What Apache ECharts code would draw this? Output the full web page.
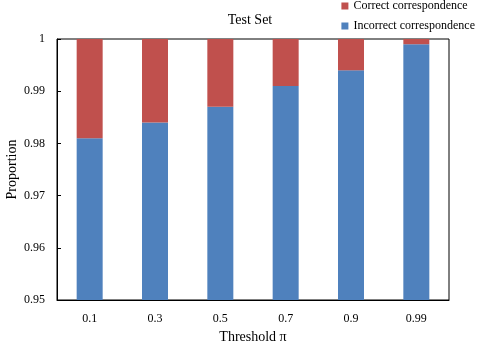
<!DOCTYPE html>
<html>
<head>
<meta charset="utf-8">
<script src="https://cdn.jsdelivr.net/npm/echarts@6/dist/echarts.min.js"></script>
<style>
  html, body { margin: 0; padding: 0; background: #fff; }
  #chart { width: 480px; height: 346px; }
</style>
</head>
<body>
<div id="chart"></div>
<script>
// thresholds on the x axis
var categories = ['0.1', '0.3', '0.5', '0.7', '0.9', '0.99'];
// bottom part of each bar (blue)
var incorrectVals = [0.981, 0.984, 0.987, 0.991, 0.994, 0.999];
// top part stacked on it up to 1 (red)
var correctVals = [0.019, 0.016, 0.013, 0.009, 0.006, 0.001];

var serif = 'Liberation Serif';

var myChart = echarts.init(document.getElementById('chart'));
var option = {
  backgroundColor: '#fff',
  animation: false,
  title: {
    text: 'Test Set',
    left: 245,
    top: 8,
    textAlign: 'center',
    textStyle: { fontFamily: serif, fontSize: 14, fontWeight: 'normal', color: '#000' }
  },
  legend: {
    data: ['Correct correspondence', 'Incorrect correspondence'],
    orient: 'vertical',
    right: 0,
    top: -5,
    icon: 'rect',
    itemWidth: 7,
    itemHeight: 7,
    itemGap: 8,
    textStyle: { fontFamily: serif, fontSize: 12, color: '#000' }
  },
  grid: {
    left: 57,
    right: 31,
    top: 39,
    bottom: 46,
    outerBoundsMode: 'none',
    show: true,
    borderColor: '#000',
    borderWidth: 1
  },
  xAxis: {
    type: 'category',
    data: categories,
    name: 'Threshold π',
    nameLocation: 'middle',
    nameGap: 30,
    nameTextStyle: { fontFamily: serif, fontSize: 14, color: '#000' },
    axisLine: { lineStyle: { color: '#000' } },
    axisTick: { inside: true, length: 4, lineStyle: { color: '#000' } },
    axisLabel: { fontFamily: serif, fontSize: 12, color: '#000', margin: 13 }
  },
  yAxis: {
    type: 'value',
    min: 0.95,
    max: 1,
    interval: 0.01,
    name: 'Proportion',
    nameLocation: 'middle',
    nameMoveOverlap: false,
    nameGap: 38,
    nameTextStyle: { fontFamily: serif, fontSize: 14, color: '#000' },
    axisLine: { show: true, lineStyle: { color: '#000' } },
    axisTick: { show: true, inside: true, length: 4, lineStyle: { color: '#000' } },
    axisLabel: { fontFamily: serif, fontSize: 12, color: '#000', margin: 12 },
    splitLine: { show: false }
  },
  series: [
    {
      name: 'Incorrect correspondence',
      type: 'bar',
      stack: 'total',
      barWidth: 26,
      itemStyle: { color: '#4F81BD' },
      data: incorrectVals
    },
    {
      name: 'Correct correspondence',
      type: 'bar',
      stack: 'total',
      barWidth: 26,
      itemStyle: { color: '#C0504D' },
      data: correctVals
    }
  ]
};
myChart.setOption(option);
</script>
</body>
</html>
